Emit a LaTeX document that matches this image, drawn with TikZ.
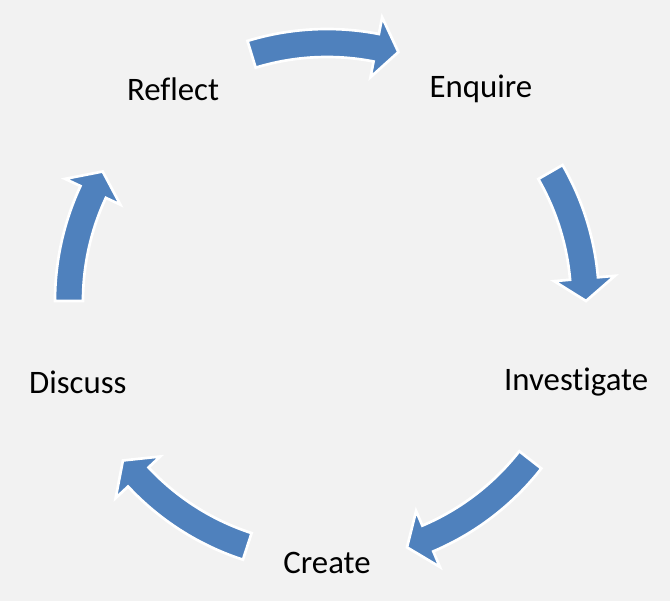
\documentclass[tikz,border=0pt]{standalone}
\usepackage{fontspec}
\setmainfont{Carlito}[Ligatures=NoCommon]
\definecolor{cycleblue}{HTML}{4F81BD}
\definecolor{paper}{HTML}{F2F2F2}
\begin{document}
\begin{tikzpicture}[x=0.75pt,y=0.75pt]
	\fill[paper] (-327,-300) rectangle (343,301);
	\useasboundingbox (-327,-300) rectangle (343,301);
	
	\foreach \ang/\name/\txt in {126/reflect/Reflect, 54/enquire/Enquire, -18/investigate/Investigate, -90/create/Create, -162/discuss/Discuss}{
		\node[font=\fontsize{24.6}{29}\selectfont] (\name) at (\ang:262) {\txt};
	}
	
	\foreach \start/\tip in {107/74, 30/0, -38/-72, -108/-142, 180/150}{
		\pgfmathsetmacro\base{\tip+5}
		\draw[white, line width=2pt, fill=cycleblue, line join=miter]
			(\start:244) arc[start angle=\start, end angle=\base, radius=244]
			-- (\base:228) -- (\tip:259) -- (\base:289) -- (\base:272)
			arc[start angle=\base, end angle=\start, radius=272] -- cycle;
	}
\end{tikzpicture}
\end{document}
